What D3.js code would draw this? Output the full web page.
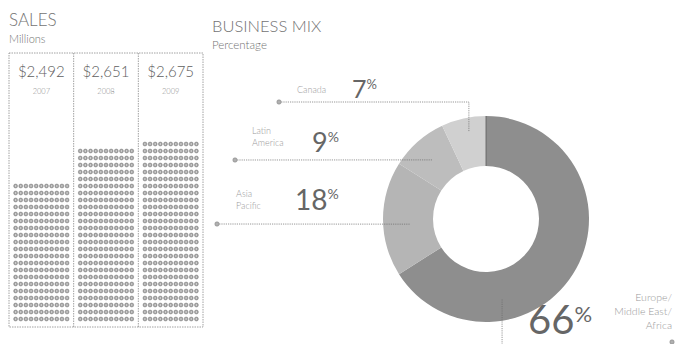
<!DOCTYPE html>
<html>
<head>
<meta charset="utf-8">
<script src="https://cdn.jsdelivr.net/npm/d3@7"></script>
<style>
    html, body { margin: 0; padding: 0; background: #fff; }
    svg { display: block; font-family: Lato, "Open Sans", sans-serif; font-weight: 300; }
</style>
</head>
<body>
<svg id="chart" width="677" height="344"></svg>
<script>
// Sales, millions
const years = ["2007", "2008", "2009"];
const sales = [2492, 2651, 2675];

// Business mix, percentage
const regions = ["Europe/Middle East/Africa", "Asia Pacific", "Latin America", "Canada"];
const shares = [66, 18, 9, 7];

const regionColours = ["#8e8e8e", "#b5b5b5", "#bdbdbd", "#d0d0d0"];
const textGrey = "#737373";
const lightGrey = "#9a9a9a";

const svg = d3.select("#chart");

// ---- SALES panel ----
svg.append("text").attr("x", 9).attr("y", 26)
    .attr("font-size", 17).attr("fill", textGrey).text("SALES");
svg.append("text").attr("x", 9).attr("y", 43)
    .attr("font-size", 11).attr("fill", textGrey).text("Millions");

const box = { left: 9, right: 203, top: 53, bottom: 327 };

const xCol = d3.scaleBand()
    .domain(years)
    .range([box.left, box.right]);

// number of dot rows per year
const rowScale = d3.scaleLinear()
    .domain([1882, 2675])
    .range([0, 26]);

const dotCols = 11;
const rowGap = 7;
const dotGap = 5.15;
const bottomRow = 319;

svg.append("rect")
    .attr("x", box.left).attr("y", box.top)
    .attr("width", box.right - box.left).attr("height", box.bottom - box.top)
    .attr("fill", "none").attr("stroke", "#8a8a8a")
    .attr("stroke-width", 0.8).attr("stroke-dasharray", "1.5,1");

svg.selectAll("line.divider")
    .data(years.slice(1))
    .join("line")
    .attr("class", "divider")
    .attr("x1", d => xCol(d)).attr("x2", d => xCol(d))
    .attr("y1", box.top).attr("y2", box.bottom)
    .attr("stroke", "#8a8a8a").attr("stroke-width", 0.8).attr("stroke-dasharray", "1.5,1");

years.forEach((yr, i) => {
    const cx = xCol(yr) + xCol.bandwidth() / 2;

    svg.append("text").attr("x", cx).attr("y", 77)
        .attr("text-anchor", "middle").attr("font-size", 15).attr("fill", "#5e5e5e")
        .text(d3.format("$,")(sales[i]));
    svg.append("text").attr("x", cx).attr("y", 94)
        .attr("text-anchor", "middle").attr("font-size", 7.5).attr("fill", "#8a8a8a")
        .text(yr);

    const rows = Math.round(rowScale(sales[i]));
    const dots = d3.range(rows * dotCols).map(k => ({ r: Math.floor(k / dotCols), c: k % dotCols }));
    const x0 = cx - (dotCols - 1) * dotGap / 2;

    const g = svg.append("g");
    g.selectAll("circle.dot")
        .data(dots)
        .join("circle")
        .attr("class", "dot")
        .attr("cx", d => x0 + d.c * dotGap)
        .attr("cy", d => bottomRow - d.r * rowGap)
        .attr("r", 2)
        .attr("fill", "#a0a0a0")
        .attr("stroke", "#707070")
        .attr("stroke-width", 0.4);
    g.selectAll("circle.core")
        .data(dots)
        .join("circle")
        .attr("class", "core")
        .attr("cx", d => x0 + d.c * dotGap)
        .attr("cy", d => bottomRow - d.r * rowGap)
        .attr("r", 0.7)
        .attr("fill", "#e6e6e6");
});

// ---- BUSINESS MIX panel ----
svg.append("text").attr("x", 212).attr("y", 32)
    .attr("font-size", 16.5).attr("fill", textGrey).text("BUSINESS MIX");
svg.append("text").attr("x", 212).attr("y", 49)
    .attr("font-size", 11.5).attr("fill", textGrey).text("Percentage");

const center = { x: 486, y: 219 };
const outerR = 103;
const innerR = 53;

const pie = d3.pie().sort(null).value(d => d);
const arcs = pie(shares);
const arc = d3.arc().innerRadius(innerR).outerRadius(outerR);

const donut = svg.append("g").attr("transform", `translate(${center.x}, ${center.y})`);
donut.selectAll("path")
    .data(arcs)
    .join("path")
    .attr("d", arc)
    .attr("fill", (d, i) => regionColours[i]);

// dark seam at 12 o'clock
donut.append("line")
    .attr("x1", 0).attr("x2", 0).attr("y1", -outerR).attr("y2", -innerR)
    .attr("stroke", "#5a5a5a").attr("stroke-width", 0.8);

// point inside a wedge, at a fraction of its angle span and a given radius
function wedgePoint(i, frac, r) {
    const a = arcs[i].startAngle + (arcs[i].endAngle - arcs[i].startAngle) * frac;
    return [center.x + r * Math.sin(a), center.y - r * Math.cos(a)];
}

// leader lines: label-side end point and the wedge point they run to
const leaders = [
    { i: 3, dot: [279, 102], path: p => [[279, 102], [p[0], 102], p], target: wedgePoint(3, 0.56, 89) },
    { i: 2, dot: [235, 160], path: p => [[235, 160], p], target: wedgePoint(2, 0.47, 80) },
    { i: 1, dot: [217, 224], path: p => [[217, 224], p], target: wedgePoint(1, 0.44, 76) },
    { i: 0, dot: [672, 342], path: p => [p, [p[0], 344]], target: wedgePoint(0, 0.71, 82) },
];

leaders.forEach(l => {
    svg.append("path")
        .attr("d", d3.line()(l.path(l.target)))
        .attr("fill", "none")
        .attr("stroke", "#6a6a6a")
        .attr("stroke-width", 0.7)
        .attr("stroke-dasharray", "1.2,1");
    svg.append("circle")
        .attr("cx", l.dot[0]).attr("cy", l.dot[1]).attr("r", 2.2)
        .attr("fill", "#b0b0b0").attr("stroke", "#7a7a7a").attr("stroke-width", 0.5);
});

// region labels
const labels = [
    { i: 3, lines: ["Canada"], lx: 297, ly: 93, nx: 352, ny: 98, big: 25, pct: 13 },
    { i: 2, lines: ["Latin", "America"], lx: 252, ly: 134, nx: 312, ny: 152, big: 27, pct: 14 },
    { i: 1, lines: ["Asia", "Pacific"], lx: 236, ly: 197, nx: 295, ny: 210, big: 28, pct: 14 },
];

labels.forEach(l => {
    const t = svg.append("text").attr("x", l.lx).attr("y", l.ly)
        .attr("font-size", 9).attr("fill", lightGrey);
    l.lines.forEach((s, k) => {
        t.append("tspan").attr("x", l.lx).attr("dy", k === 0 ? 0 : 12).text(s);
    });
    const n = svg.append("text").attr("x", l.nx).attr("y", l.ny).attr("fill", "#666");
    n.append("tspan").attr("font-size", l.big).attr("font-weight", 400).text(shares[l.i]);
    n.append("tspan").attr("font-size", l.pct).attr("font-weight", 400).attr("dy", -l.big * 0.38).text("%");
});

// Europe / Middle East / Africa
const eu = svg.append("text").attr("y", 334).attr("fill", "#666").attr("x", 528);
eu.append("tspan").attr("font-size", 40).attr("font-weight", 400).text(shares[0]);
eu.append("tspan").attr("font-size", 22).attr("font-weight", 400).attr("dy", -12).text("%");

const euText = svg.append("text").attr("text-anchor", "end")
    .attr("font-size", 10.5).attr("fill", lightGrey).attr("y", 301);
["Europe/", "Middle East/", "Africa"].forEach((s, k) => {
    euText.append("tspan").attr("x", 672).attr("dy", k === 0 ? 0 : 14).text(s);
});
</script>
</body>
</html>
